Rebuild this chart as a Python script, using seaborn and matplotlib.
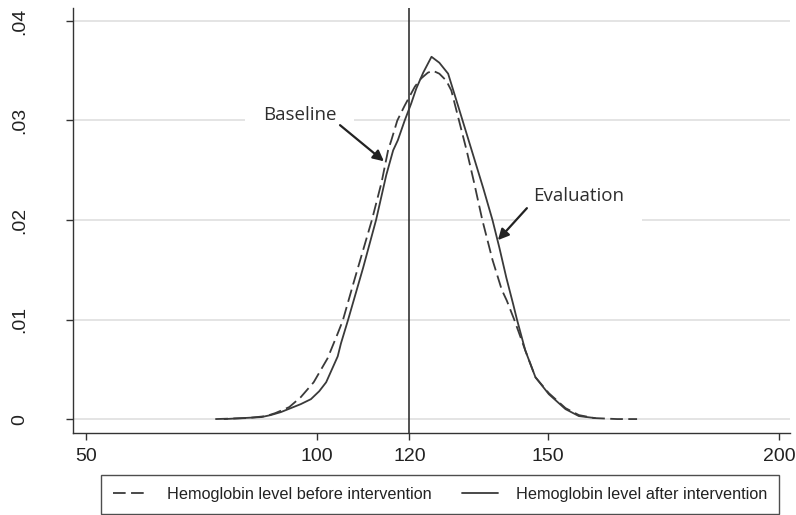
import matplotlib
matplotlib.use("Agg")
import matplotlib.pyplot as plt
import seaborn as sns
import pandas as pd
from matplotlib.lines import Line2D

# ---- data ----
before_x = [78, 85, 89, 91, 94, 96.5, 99.3, 102.3, 104.5, 105.6, 108, 111.9, 114, 115.4,
            116.1, 117.4, 119, 121.2, 122.5, 124, 125.1, 126.5, 128, 129.1, 131.3, 132.4,
            134, 135.8, 138, 140, 141.1, 142.7, 145.1, 147.3, 150.2, 153.8, 156.7, 160, 165, 169.3]
before_y = [0.0, 0.0001, 0.0003, 0.0006, 0.0012, 0.0022, 0.0037, 0.0061, 0.0086, 0.0099, 0.0138,
            0.0200, 0.0238, 0.0270, 0.0280, 0.0300, 0.0315, 0.0334, 0.0342, 0.0348, 0.0350,
            0.0347, 0.0340, 0.0330, 0.0290, 0.0270, 0.0238, 0.0200, 0.0160, 0.0130, 0.0119,
            0.0100, 0.0069, 0.0042, 0.0026, 0.0011, 0.0004, 0.0001, 0.0, 0.0]

after_x = [80, 88, 90, 92.2, 96.5, 98.7, 100.5, 102, 104.5, 105.2, 106.7, 110, 112.8, 115,
           116.5, 117.5, 119, 120.4, 121.5, 123, 124.8, 126.5, 128.4, 130.6, 133.5, 136, 138,
           139.5, 141, 142.5, 143.3, 145.1, 147.3, 150.2, 153.8, 156.7, 160.2]
after_y = [0.0, 0.0002, 0.0004, 0.0007, 0.0015, 0.0020, 0.0028, 0.0037, 0.0063, 0.0076, 0.0099,
           0.0152, 0.0200, 0.0245, 0.0270, 0.0280, 0.0300, 0.0317, 0.0332, 0.0348, 0.0364,
           0.0358, 0.0347, 0.0314, 0.0270, 0.0232, 0.0200, 0.0172, 0.0142, 0.0115, 0.0100,
           0.0069, 0.0042, 0.0025, 0.0010, 0.0003, 0.0001]

series_names = ["Hemoglobin level before intervention", "Hemoglobin level after intervention"]
x_ticks = [50, 100, 120, 150, 200]
y_ticks = [0, 0.01, 0.02, 0.03, 0.04]
y_tick_labels = ["0", ".01", ".02", ".03", ".04"]
ref_line_x = 120
annotations = ["Baseline", "Evaluation"]

df = pd.concat([
    pd.DataFrame({"x": before_x, "y": before_y, "series": series_names[0]}),
    pd.DataFrame({"x": after_x, "y": after_y, "series": series_names[1]}),
])

sns.set_style("white")
plt.rcParams["font.family"] = ["Liberation Sans", "DejaVu Sans"]

W, H = 796, 515
fig = plt.figure(figsize=(W / 100, H / 100), dpi=100)
ax = fig.add_axes([73 / W, 1 - 433 / H, (790 - 73) / W, (433 - 8) / H])

line_col = "#3a3a3a"
sns.lineplot(data=df, x="x", y="y", hue="series", style="series",
             palette={series_names[0]: line_col, series_names[1]: line_col},
             dashes={series_names[0]: (7, 3), series_names[1]: ""},
             linewidth=1.3, ax=ax, legend=False, zorder=5)

ax.set_xlim(47.2, 202.4)
ax.set_ylim(-0.0014, 0.0413)

for yt in y_ticks:
    ax.axhline(yt, color="#e4e4e4", lw=1.4, zorder=0.5)

ax.axvline(ref_line_x, color="#333333", lw=1.2, zorder=4)

ax.set_xticks(x_ticks)
ax.set_xticklabels([str(v) for v in x_ticks], fontsize=14, color="#222222")
ax.set_yticks(y_ticks)
ax.set_yticklabels(y_tick_labels, fontsize=14, color="#222222", rotation=90, va="center")
ax.tick_params(axis="x", bottom=True, direction="out", length=5, width=1, color="#333333", pad=6)
ax.tick_params(axis="y", left=True, direction="out", length=5, width=1, color="#333333", pad=27)
ax.set_xlabel("")
ax.set_ylabel("")

for s in ["top", "right"]:
    ax.spines[s].set_visible(False)
for s in ["left", "bottom"]:
    ax.spines[s].set_color("#333333")
    ax.spines[s].set_linewidth(1.0)

# annotations
txt_kw = dict(fontsize=13.5, color="#2e2e2e", family=["Open Sans", "DejaVu Sans"],
              ha="center", va="center", zorder=3,
              bbox=dict(boxstyle="square,pad=0.95", facecolor="white", edgecolor="none"))
ax.text(96.3, 0.0305, annotations[0], **txt_kw)
ax.text(156.7, 0.0224, annotations[1], **txt_kw)

arrow_kw = dict(arrowstyle="-|>", color="#222222", lw=1.6, mutation_scale=16,
                shrinkA=0, shrinkB=0)
ax.annotate("", xy=(114.5, 0.0259), xytext=(105.0, 0.02953), arrowprops=arrow_kw, zorder=6)
ax.annotate("", xy=(139.18, 0.01798), xytext=(145.45, 0.02119), arrowprops=arrow_kw, zorder=6)

# legend
handles = [Line2D([], [], color=line_col, lw=1.3, dashes=(7, 3)),
           Line2D([], [], color=line_col, lw=1.3)]
leg = fig.legend(handles, series_names, loc="lower left",
                 bbox_to_anchor=(101 / W, 1 - 514 / H, (779 - 101) / W, (514 - 477) / H),
                 mode="expand", ncol=2, frameon=True, fancybox=False, fontsize=11.7,
                 handlelength=2.2, handletextpad=1.1, borderaxespad=0, borderpad=0.75,
                 columnspacing=2.0)
leg.get_frame().set_edgecolor("#222222")
leg.get_frame().set_linewidth(1.0)
for t in leg.get_texts():
    t.set_color("#222222")

fig.savefig("out.png", dpi=100)
